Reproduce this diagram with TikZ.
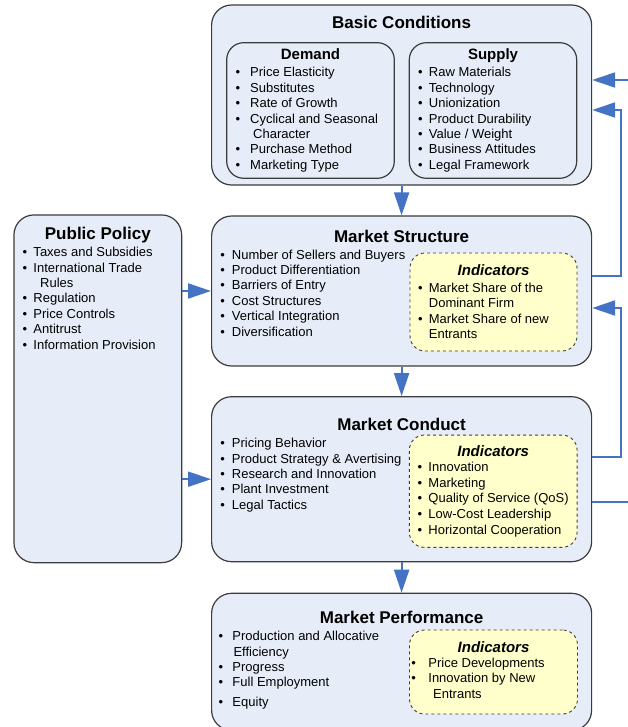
\documentclass[tikz,border=0pt]{standalone}
\usepackage{fontspec}
\setmainfont{Liberation Sans}
\usepackage{xcolor}
\usetikzlibrary{arrows.meta}

\definecolor{boxfill}{RGB}{231,237,248}
\definecolor{indfill}{RGB}{255,255,204}
\definecolor{linkblue}{RGB}{68,114,196}
\definecolor{edgegray}{RGB}{60,60,60}

\newcommand{\bul}[1]{\makebox[#1][l]{\textbullet}}

\begin{document}
\begin{tikzpicture}[x=1pt, y=-1pt,
    bigbox/.style={draw=edgegray, line width=1.2pt, fill=boxfill, rounded corners=20pt, inner sep=0pt},
    subbox/.style={draw=edgegray, line width=1.2pt, fill=boxfill, rounded corners=17pt, inner sep=0pt},
    indbox/.style={draw=edgegray, line width=0.9pt, dashed, fill=indfill, rounded corners=15pt, inner sep=0pt},
    head/.style={anchor=base, inner sep=0pt, font=\fontsize{17}{20}\selectfont\bfseries},
    subhead/.style={anchor=base, inner sep=0pt, font=\fontsize{15}{18}\selectfont\bfseries},
    indhead/.style={anchor=base, inner sep=0pt, font=\fontsize{15}{18}\selectfont\bfseries\itshape},
    listtext/.style={anchor=base west, inner sep=0pt, font=\fontsize{13}{15.4}\selectfont},
    flow/.style={draw=linkblue, line width=2pt, -{Triangle[length=23pt,width=15pt]}}]
    \useasboundingbox (0,0) rectangle (628,727);

    % boxes
    \node[bigbox, minimum width=380pt, minimum height=180pt] (basic) at (401.6,95) {};
    \node[subbox, minimum width=167.6pt, minimum height=135.6pt] (demand) at (310.5,110.5) {};
    \node[subbox, minimum width=167.4pt, minimum height=135.6pt] (supply) at (493,110.5) {};
    \node[bigbox, minimum width=380pt, minimum height=150pt] (structure) at (401.6,291) {};
    \node[indbox, minimum width=167pt, minimum height=98pt] (msind) at (493.5,302) {};
    \node[bigbox, minimum width=380pt, minimum height=165pt] (conduct) at (401.6,479.2) {};
    \node[indbox, minimum width=167.7pt, minimum height=112.3pt] (mcind) at (493.2,491.2) {};
    \node[bigbox, minimum width=380pt, minimum height=137pt] (perform) at (401.6,661.8) {};
    \node[indbox, minimum width=168pt, minimum height=84pt] (mpind) at (493.5,672) {};
    \node[bigbox, minimum width=167.7pt, minimum height=347.7pt] (policy) at (97.8,388.8) {};

    % basic conditions
    \node[head] (basictitle) at (401.6,28.3) {Basic Conditions};
    \node[subhead] (demtitle) at (310.5,60) {Demand};
    \node[listtext] (demlist) at (235.5,77) {\begin{tabular}[t]{@{}l@{}}
        \bul{14.5pt}Price Elasticity\\
        \bul{14.5pt}Substitutes\\
        \bul{14.5pt}Rate of Growth\\
        \bul{14.5pt}Cyclical and Seasonal\\
        \hspace{17.5pt}Character\\
        \bul{14.5pt}Purchase Method\\
        \bul{14.5pt}Marketing Type
    \end{tabular}};
    \node[subhead] (suptitle) at (493,60) {Supply};
    \node[listtext] (suplist) at (418,77) {\begin{tabular}[t]{@{}l@{}}
        \bul{10.7pt}Raw Materials\\
        \bul{10.7pt}Technology\\
        \bul{10.7pt}Unionization\\
        \bul{10.7pt}Product Durability\\
        \bul{10.7pt}Value / Weight\\
        \bul{10.7pt}Business Attitudes\\
        \bul{10.7pt}Legal Framework
    \end{tabular}};

    % market structure
    \node[head] (mstitle) at (401.6,242) {Market Structure};
    \node[listtext] (mslist) at (220.2,259) {\begin{tabular}[t]{@{}l@{}}
        \bul{11.5pt}Number of Sellers and Buyers\\
        \bul{11.5pt}Product Differentiation\\
        \bul{11.5pt}Barriers of Entry\\
        \bul{11.5pt}Cost Structures\\
        \bul{11.5pt}Vertical Integration\\
        \bul{11.5pt}Diversification
    \end{tabular}};
    \node[indhead] (msindtitle) at (493.5,275) {Indicators};
    \node[listtext] (msindlist) at (418,292.5) {\begin{tabular}[t]{@{}l@{}}
        \bul{10.7pt}Market Share of the\\
        \hspace{10.7pt}Dominant Firm\\
        \bul{10.7pt}Market Share of new\\
        \hspace{10.7pt}Entrants
    \end{tabular}};

    % public policy
    \node[head] (pptitle) at (97.8,240) {Public Policy};
    \node[listtext] (pplist) at (22.5,256.7) {\begin{tabular}[t]{@{}l@{}}
        \bul{10.8pt}Taxes and Subsidies\\
        \bul{10.8pt}International Trade\\
        \hspace{17.5pt}Rules\\
        \bul{10.8pt}Regulation\\
        \bul{10.8pt}Price Controls\\
        \bul{10.8pt}Antitrust\\
        \bul{10.8pt}Information Provision
    \end{tabular}};

    % market conduct
    \node[head] (mctitle) at (401.6,430) {Market Conduct};
    \node[listtext] (mclist) at (220.2,447.7) {\begin{tabular}[t]{@{}l@{}}
        \bul{11.5pt}Pricing Behavior\\
        \bul{11.5pt}Product Strategy \& Avertising\\
        \bul{11.5pt}Research and Innovation\\
        \bul{11.5pt}Plant Investment\\
        \bul{11.5pt}Legal Tactics
    \end{tabular}};
    \node[indhead] (mcindtitle) at (493.2,456) {Indicators};
    \node[listtext, font=\fontsize{13}{15.6}\selectfont] (mcindlist) at (417.5,471.7) {\begin{tabular}[t]{@{}l@{}}
        \bul{10.8pt}Innovation\\
        \bul{10.8pt}Marketing\\
        \bul{10.8pt}Quality of Service (QoS)\\
        \bul{10.8pt}Low-Cost Leadership\\
        \bul{10.8pt}Horizontal Cooperation
    \end{tabular}};

    % market performance
    \node[head] (mptitle) at (401.6,623.3) {Market Performance};
    \node[listtext] (mplist) at (218.5,640.7) {\begin{tabular}[t]{@{}l@{}}
        \bul{13.8pt}Production and Allocative\\
        \hspace{14.8pt}Efficiency\\
        \bul{13.8pt}Progress\\
        \bul{13.8pt}Full Employment\\[3.9pt]
        \bul{13.8pt}Equity
    \end{tabular}};
    \node[indhead] (mpindtitle) at (493.5,652.7) {Indicators};
    \node[listtext] (mpindlist) at (411.2,667.3) {\begin{tabular}[t]{@{}l@{}}
        \bul{17pt}Price Developments\\
        \bul{17pt}Innovation by New\\
        \hspace{21.8pt}Entrants
    \end{tabular}};

    % main flow
    \draw[flow] (basic.south) -- (structure.north);
    \draw[flow] (structure.south) -- (conduct.north);
    \draw[flow] (conduct.south) -- (perform.north);
    \draw[flow] (policy.east |- structure.west) -- (structure.west);
    \draw[flow] (policy.east |- conduct.west) -- (conduct.west);

    % feedback
    \draw[flow] ([yshift=15pt]basic.east) ++(50pt,0) -- ([yshift=15pt]basic.east);
    \draw[flow] ([yshift=15pt]structure.east) -- ++(29pt,0) |- ([yshift=-15pt]basic.east);
    \draw[flow] ([yshift=22.5pt]conduct.east) -- ++(29pt,0) |- ([yshift=-17pt]structure.east);
    \draw[draw=linkblue, line width=2pt] ([yshift=-23pt]conduct.east) -- ++(50pt,0);
\end{tikzpicture}
\end{document}
